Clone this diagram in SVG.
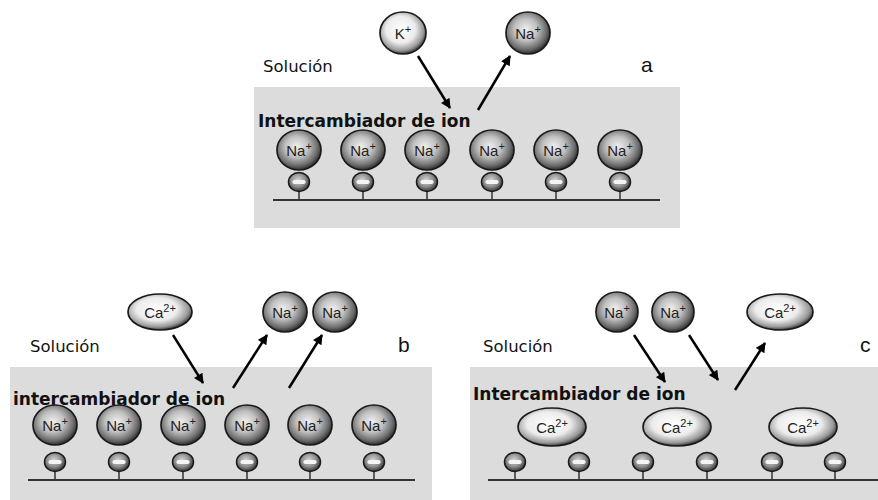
<svg xmlns="http://www.w3.org/2000/svg" xmlns:xlink="http://www.w3.org/1999/xlink" width="878" height="500" viewBox="0 0 878 500">
<style>
.panel{fill:#dcdcdc}
.base{stroke:#333;stroke-width:2;fill:none}
.stem{stroke:#333;stroke-width:1.5}
.ion{stroke:#1a1a1a;stroke-width:1.7}
.lbl{font-family:"Liberation Sans",Arial,sans-serif;font-size:15px;fill:#222;text-anchor:middle}
.sup{font-size:11px}
.sol{font-family:"DejaVu Sans",Verdana,sans-serif;font-size:16.5px;fill:#111}
.tag{font-family:"Liberation Sans",Arial,sans-serif;font-size:21px;fill:#111}
.ix{font-family:"DejaVu Sans",Verdana,sans-serif;font-size:17px;font-weight:bold;fill:#111}
.arr{stroke:#000;stroke-width:2.5;fill:none;marker-end:url(#ah)}
</style>
<defs>
<radialGradient id="light" cx="0.45" cy="0.42" r="0.58">
<stop offset="0" stop-color="#ffffff"/>
<stop offset="0.55" stop-color="#ececec"/>
<stop offset="0.85" stop-color="#9a9a9a"/>
<stop offset="1" stop-color="#404040"/>
</radialGradient>
<radialGradient id="dark" cx="0.45" cy="0.42" r="0.58">
<stop offset="0" stop-color="#f0f0f0"/>
<stop offset="0.45" stop-color="#c0c0c0"/>
<stop offset="0.82" stop-color="#6a6a6a"/>
<stop offset="1" stop-color="#2e2e2e"/>
</radialGradient>
<radialGradient id="small" cx="0.45" cy="0.4" r="0.6">
<stop offset="0" stop-color="#d8d8d8"/>
<stop offset="0.6" stop-color="#8a8a8a"/>
<stop offset="1" stop-color="#333"/>
</radialGradient>
<marker id="ah" viewBox="0 0 10 10" refX="9" refY="5" markerWidth="4.8" markerHeight="4" orient="auto" markerUnits="strokeWidth">
<path d="M0,0 L10,5 L0,10 z" fill="#000"/>
</marker>
<g id="anc">
<line class="stem" x1="0" y1="8" x2="0" y2="18"/>
<ellipse cx="0" cy="0" rx="10.5" ry="9.5" fill="url(#small)" stroke="#1a1a1a" stroke-width="1.5"/>
<rect x="-6.5" y="-2" width="13" height="4" rx="1.8" fill="#f4f4f4"/>
</g>
</defs>
<rect width="878" height="500" fill="#fff"/>

<!-- Panel a -->
<g id="panel-a">
<rect class="panel" x="254" y="87" width="426" height="141"/>
<line class="base" x1="273" y1="200" x2="660" y2="200"/>
<text class="sol" x="263" y="72">Solución</text>
<text class="tag" x="641" y="72">a</text>
<text class="ix" x="258" y="127">Intercambiador de ion</text>
<use xlink:href="#anc" x="299" y="182"/><use xlink:href="#anc" x="363" y="182"/><use xlink:href="#anc" x="427" y="182"/>
<use xlink:href="#anc" x="492" y="182"/><use xlink:href="#anc" x="556" y="182"/><use xlink:href="#anc" x="620" y="182"/>
</g>
<g id="a-na1"><ellipse class="ion" cx="299" cy="150" rx="22" ry="20" fill="url(#dark)"/><text class="lbl" x="299" y="156">Na<tspan class="sup" dy="-6">+</tspan></text></g>
<g id="a-na2"><ellipse class="ion" cx="363" cy="150" rx="22" ry="20" fill="url(#dark)"/><text class="lbl" x="363" y="156">Na<tspan class="sup" dy="-6">+</tspan></text></g>
<g id="a-na3"><ellipse class="ion" cx="427" cy="150" rx="22" ry="20" fill="url(#dark)"/><text class="lbl" x="427" y="156">Na<tspan class="sup" dy="-6">+</tspan></text></g>
<g id="a-na4"><ellipse class="ion" cx="492" cy="150" rx="22" ry="20" fill="url(#dark)"/><text class="lbl" x="492" y="156">Na<tspan class="sup" dy="-6">+</tspan></text></g>
<g id="a-na5"><ellipse class="ion" cx="556" cy="150" rx="22" ry="20" fill="url(#dark)"/><text class="lbl" x="556" y="156">Na<tspan class="sup" dy="-6">+</tspan></text></g>
<g id="a-na6"><ellipse class="ion" cx="620" cy="150" rx="22" ry="20" fill="url(#dark)"/><text class="lbl" x="620" y="156">Na<tspan class="sup" dy="-6">+</tspan></text></g>
<g id="a-k"><ellipse class="ion" cx="403" cy="33" rx="23" ry="21" fill="url(#light)"/><text class="lbl" x="403" y="39">K<tspan class="sup" dy="-6">+</tspan></text></g>
<g id="a-naout"><ellipse class="ion" cx="528" cy="33" rx="22" ry="21" fill="url(#dark)"/><text class="lbl" x="528" y="39">Na<tspan class="sup" dy="-6">+</tspan></text></g>

<!-- Panel b -->
<g id="panel-b">
<rect class="panel" x="10" y="367" width="422" height="133"/>
<line class="base" x1="28" y1="480" x2="415" y2="480"/>
<text class="sol" x="30" y="352">Solución</text>
<text class="tag" x="398" y="352">b</text>
<text class="ix" x="13" y="405">intercambiador de ion</text>
<use xlink:href="#anc" x="55" y="462"/><use xlink:href="#anc" x="119" y="462"/><use xlink:href="#anc" x="183" y="462"/>
<use xlink:href="#anc" x="247" y="462"/><use xlink:href="#anc" x="310" y="462"/><use xlink:href="#anc" x="374" y="462"/>
</g>
<g id="b-na1"><ellipse class="ion" cx="55" cy="425" rx="22" ry="20" fill="url(#dark)"/><text class="lbl" x="55" y="431">Na<tspan class="sup" dy="-6">+</tspan></text></g>
<g id="b-na2"><ellipse class="ion" cx="119" cy="425" rx="22" ry="20" fill="url(#dark)"/><text class="lbl" x="119" y="431">Na<tspan class="sup" dy="-6">+</tspan></text></g>
<g id="b-na3"><ellipse class="ion" cx="183" cy="425" rx="22" ry="20" fill="url(#dark)"/><text class="lbl" x="183" y="431">Na<tspan class="sup" dy="-6">+</tspan></text></g>
<g id="b-na4"><ellipse class="ion" cx="247" cy="425" rx="22" ry="20" fill="url(#dark)"/><text class="lbl" x="247" y="431">Na<tspan class="sup" dy="-6">+</tspan></text></g>
<g id="b-na5"><ellipse class="ion" cx="310" cy="425" rx="22" ry="20" fill="url(#dark)"/><text class="lbl" x="310" y="431">Na<tspan class="sup" dy="-6">+</tspan></text></g>
<g id="b-na6"><ellipse class="ion" cx="374" cy="425" rx="22" ry="20" fill="url(#dark)"/><text class="lbl" x="374" y="431">Na<tspan class="sup" dy="-6">+</tspan></text></g>
<g id="b-ca"><ellipse class="ion" cx="160" cy="312" rx="32" ry="18" fill="url(#light)"/><text class="lbl" x="160" y="318">Ca<tspan class="sup" dy="-6">2+</tspan></text></g>
<g id="b-naout1"><ellipse class="ion" cx="285" cy="312" rx="22" ry="20" fill="url(#dark)"/><text class="lbl" x="285" y="318">Na<tspan class="sup" dy="-6">+</tspan></text></g>
<g id="b-naout2"><ellipse class="ion" cx="335" cy="312" rx="22" ry="20" fill="url(#dark)"/><text class="lbl" x="335" y="318">Na<tspan class="sup" dy="-6">+</tspan></text></g>

<!-- Panel c -->
<g id="panel-c">
<rect class="panel" x="470" y="367" width="408" height="133"/>
<line class="base" x1="488" y1="480" x2="878" y2="480"/>
<text class="sol" x="483" y="352">Solución</text>
<text class="tag" x="860" y="352">c</text>
<text class="ix" x="473" y="400">Intercambiador de ion</text>
<use xlink:href="#anc" x="515" y="462"/><use xlink:href="#anc" x="579" y="462"/><use xlink:href="#anc" x="643" y="462"/>
<use xlink:href="#anc" x="707" y="462"/><use xlink:href="#anc" x="772" y="462"/><use xlink:href="#anc" x="835" y="462"/>
</g>
<g id="c-ca1"><ellipse class="ion" cx="552" cy="427" rx="34" ry="19" fill="url(#light)"/><text class="lbl" x="552" y="433">Ca<tspan class="sup" dy="-6">2+</tspan></text></g>
<g id="c-ca2"><ellipse class="ion" cx="677" cy="427" rx="34" ry="19" fill="url(#light)"/><text class="lbl" x="677" y="433">Ca<tspan class="sup" dy="-6">2+</tspan></text></g>
<g id="c-ca3"><ellipse class="ion" cx="803" cy="427" rx="34" ry="19" fill="url(#light)"/><text class="lbl" x="803" y="433">Ca<tspan class="sup" dy="-6">2+</tspan></text></g>
<g id="c-nain1"><ellipse class="ion" cx="617" cy="312" rx="21" ry="20" fill="url(#dark)"/><text class="lbl" x="617" y="318">Na<tspan class="sup" dy="-6">+</tspan></text></g>
<g id="c-nain2"><ellipse class="ion" cx="673" cy="312" rx="21" ry="20" fill="url(#dark)"/><text class="lbl" x="673" y="318">Na<tspan class="sup" dy="-6">+</tspan></text></g>
<g id="c-caout"><ellipse class="ion" cx="780" cy="312" rx="33" ry="18" fill="url(#light)"/><text class="lbl" x="780" y="318">Ca<tspan class="sup" dy="-6">2+</tspan></text></g>

<!-- Connectors -->
<g id="connectors">
<line class="arr" x1="418" y1="56" x2="450" y2="108"/>
<line class="arr" x1="478" y1="110" x2="510" y2="56"/>
<line class="arr" x1="173" y1="335" x2="203" y2="383"/>
<line class="arr" x1="233" y1="388" x2="267" y2="335"/>
<line class="arr" x1="289" y1="388" x2="322" y2="335"/>
<line class="arr" x1="634" y1="335" x2="665" y2="382"/>
<line class="arr" x1="689" y1="335" x2="718" y2="380"/>
<line class="arr" x1="735" y1="390" x2="765" y2="343"/>
</g>
</svg>
